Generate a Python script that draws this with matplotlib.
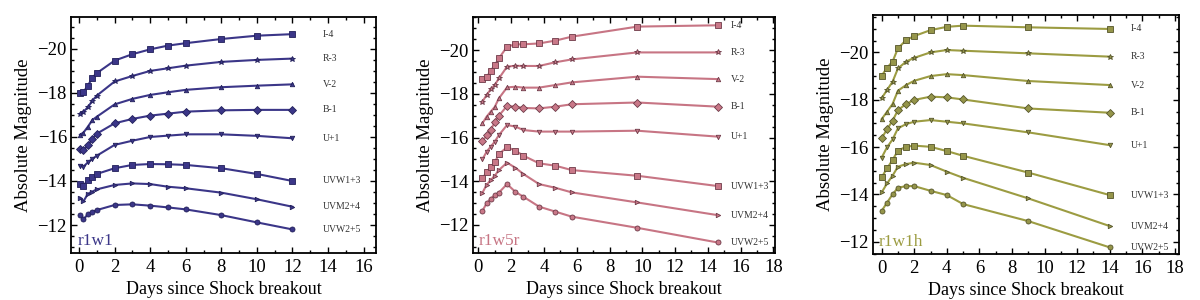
import numpy as np
import matplotlib
matplotlib.use("Agg")
from matplotlib import pyplot as plt
from matplotlib.ticker import MultipleLocator

plt.rcParams['font.family'] = ['Liberation Serif', 'DejaVu Serif']

band_labels = ["I-4", "R-3", "V-2", "B-1", "U+1", "UVW1+3", "UVM2+4", "UVW2+5"]
band_markers = ['s', '*', '^', 'D', 'v', 's', '>', 'o']

# r1w1
t_r1w1 = [0.05, 0.25, 0.5, 0.75, 1, 2, 3, 4, 5, 6, 8, 10, 12]
I_r1w1 = [-17.98, -18.05, -18.33, -18.7, -18.9, -19.47, -19.76, -19.98, -20.15, -20.26, -20.45, -20.6, -20.67]
R_r1w1 = [-17.05, -17.15, -17.35, -17.65, -17.88, -18.52, -18.77, -19.0, -19.12, -19.24, -19.41, -19.5, -19.56]
V_r1w1 = [-16.1, -16.2, -16.47, -16.77, -16.92, -17.48, -17.73, -17.91, -18.03, -18.14, -18.26, -18.33, -18.39]
B_r1w1 = [-15.45, -15.4, -15.62, -15.92, -16.15, -16.62, -16.82, -16.97, -17.06, -17.15, -17.21, -17.23, -17.23]
U_r1w1 = [-14.7, -14.65, -14.85, -15.0, -15.15, -15.64, -15.83, -16.0, -16.06, -16.12, -16.12, -16.05, -15.94]
W1_r1w1 = [-13.86, -13.79, -14.05, -14.2, -14.32, -14.58, -14.73, -14.77, -14.76, -14.73, -14.58, -14.32, -14.0]
M2_r1w1 = [-13.24, -13.08, -13.42, -13.52, -13.62, -13.82, -13.89, -13.86, -13.74, -13.67, -13.47, -13.17, -12.83]
W2_r1w1 = [-12.45, -12.26, -12.49, -12.6, -12.68, -12.91, -12.94, -12.88, -12.8, -12.71, -12.45, -12.12, -11.8]

# r1w5r
t_r1w5r = [0.25, 0.5, 0.75, 1.0, 1.25, 1.75, 2.25, 2.75, 3.7, 4.7, 5.7, 9.7, 14.6]
I_r1w5r = [-18.69, -18.75, -19.05, -19.31, -19.62, -20.15, -20.26, -20.26, -20.3, -20.43, -20.61, -21.07, -21.13]
R_r1w5r = [-17.64, -17.94, -18.2, -18.4, -18.7, -19.24, -19.28, -19.27, -19.27, -19.44, -19.57, -19.89, -19.89]
V_r1w5r = [-16.65, -16.95, -17.18, -17.4, -17.79, -18.29, -18.32, -18.28, -18.28, -18.4, -18.52, -18.78, -18.67]
B_r1w5r = [-15.82, -16.1, -16.35, -16.7, -17.0, -17.44, -17.41, -17.35, -17.33, -17.41, -17.52, -17.6, -17.41]
U_r1w5r = [-15.0, -15.35, -15.58, -15.81, -16.11, -16.57, -16.5, -16.34, -16.27, -16.27, -16.27, -16.31, -16.04]
W1_r1w5r = [-14.13, -14.41, -14.66, -14.86, -15.24, -15.56, -15.4, -15.17, -14.82, -14.71, -14.51, -14.25, -13.78]
M2_r1w5r = [-13.48, -13.83, -14.05, -14.25, -14.51, -14.85, -14.62, -14.33, -13.87, -13.7, -13.49, -13.03, -12.45]
W2_r1w5r = [-12.65, -12.99, -13.19, -13.37, -13.48, -13.87, -13.52, -13.29, -12.84, -12.61, -12.38, -11.87, -11.2]

# r1w1h
t_r1w1h = [0, 0.33, 0.67, 1, 1.5, 2, 3, 4, 5, 9, 14]
I_r1w1h = [-19.01, -19.35, -19.61, -20.17, -20.52, -20.69, -20.94, -21.08, -21.13, -21.06, -20.99]
R_r1w1h = [-18.06, -18.41, -18.76, -19.32, -19.61, -19.77, -20.0, -20.1, -20.07, -19.96, -19.82]
V_r1w1h = [-17.18, -17.49, -17.82, -18.38, -18.62, -18.8, -19.0, -19.08, -19.04, -18.79, -18.62]
B_r1w1h = [-16.37, -16.75, -17.11, -17.56, -17.82, -17.99, -18.13, -18.1, -18.01, -17.63, -17.45]
U_r1w1h = [-15.55, -15.99, -16.32, -16.79, -16.97, -17.07, -17.14, -17.07, -17.0, -16.62, -16.08]
W1_r1w1h = [-14.72, -15.1, -15.45, -15.85, -16.01, -16.06, -16.01, -15.83, -15.63, -14.92, -13.97]
M2_r1w1h = [-14.08, -14.46, -14.79, -15.17, -15.28, -15.34, -15.24, -14.96, -14.7, -13.83, -12.66]
W2_r1w1h = [-13.3, -13.65, -14.0, -14.28, -14.35, -14.35, -14.15, -13.97, -13.59, -12.87, -11.76]

models = [
    ("r1w1", t_r1w1, [I_r1w1, R_r1w1, V_r1w1, B_r1w1, U_r1w1, W1_r1w1, M2_r1w1, W2_r1w1]),
    ("r1w5r", t_r1w5r, [I_r1w5r, R_r1w5r, V_r1w5r, B_r1w5r, U_r1w5r, W1_r1w5r, M2_r1w5r, W2_r1w5r]),
    ("r1w1h", t_r1w1h, [I_r1w1h, R_r1w1h, V_r1w1h, B_r1w1h, U_r1w1h, W1_r1w1h, M2_r1w1h, W2_r1w1h]),
]

line_colors = ["#3b3688", "#c77584", "#9c9c42"]
face_colors = ["#3b3688", "#c97888", "#95954a"]
edge_colors = ["#22205a", "#6e3a48", "#55552a"]

rects = [[0.0592, 0.1567, 0.2542, 0.7867],
         [0.394, 0.1567, 0.2519, 0.7867],
         [0.7275, 0.1533, 0.255, 0.7967]]
xlims = [(-0.45, 16.7), (-0.34, 18.1), (-0.53, 18.25)]
ylims = [(-10.73, -21.45), (-10.72, -21.51), (-11.48, -21.58)]
label_x = [13.7, 15.4, 15.3]
msizes = [4.2, 4, 3.2, 4.5, 3.2, 4.2, 3.2, 3.6]

fig = plt.figure(figsize=(12, 3), dpi=100)

for k, (name, t, bands) in enumerate(models):
    ax = fig.add_axes(rects[k])
    for j, mags in enumerate(bands):
        ax.plot(t, mags, '-', color=line_colors[k], lw=1.5,
                marker=band_markers[j], ms=msizes[j],
                mfc=face_colors[k], mec=edge_colors[k], mew=0.6)
        ax.text(label_x[k], mags[-1], band_labels[j], fontsize=7,
                va='center', ha='left', color='#333333')
    ax.text(0.02, 0.015, name, transform=ax.transAxes, color=line_colors[k],
            fontsize=12.5, ha='left', va='bottom')
    ax.set_xlim(*xlims[k])
    ax.set_ylim(*ylims[k])
    ax.xaxis.set_major_locator(MultipleLocator(2))
    ax.xaxis.set_minor_locator(MultipleLocator(1))
    ax.yaxis.set_major_locator(MultipleLocator(2))
    ax.yaxis.set_minor_locator(MultipleLocator(0.5))
    ax.tick_params(which='both', direction='in', top=True, right=True,
                   labelsize=13.5, width=1.0)
    ax.tick_params(which='major', length=4)
    ax.tick_params(which='minor', length=2)
    ax.tick_params(axis='y', pad=3)
    ax.tick_params(axis='x', pad=4)
    for s in ax.spines.values():
        s.set_linewidth(1.3)
    ax.set_xlabel("Days since Shock breakout", fontsize=13)
    ax.set_ylabel("Absolute Magnitude", fontsize=13.5, labelpad=4)

fig.savefig("out.png", dpi=100)
